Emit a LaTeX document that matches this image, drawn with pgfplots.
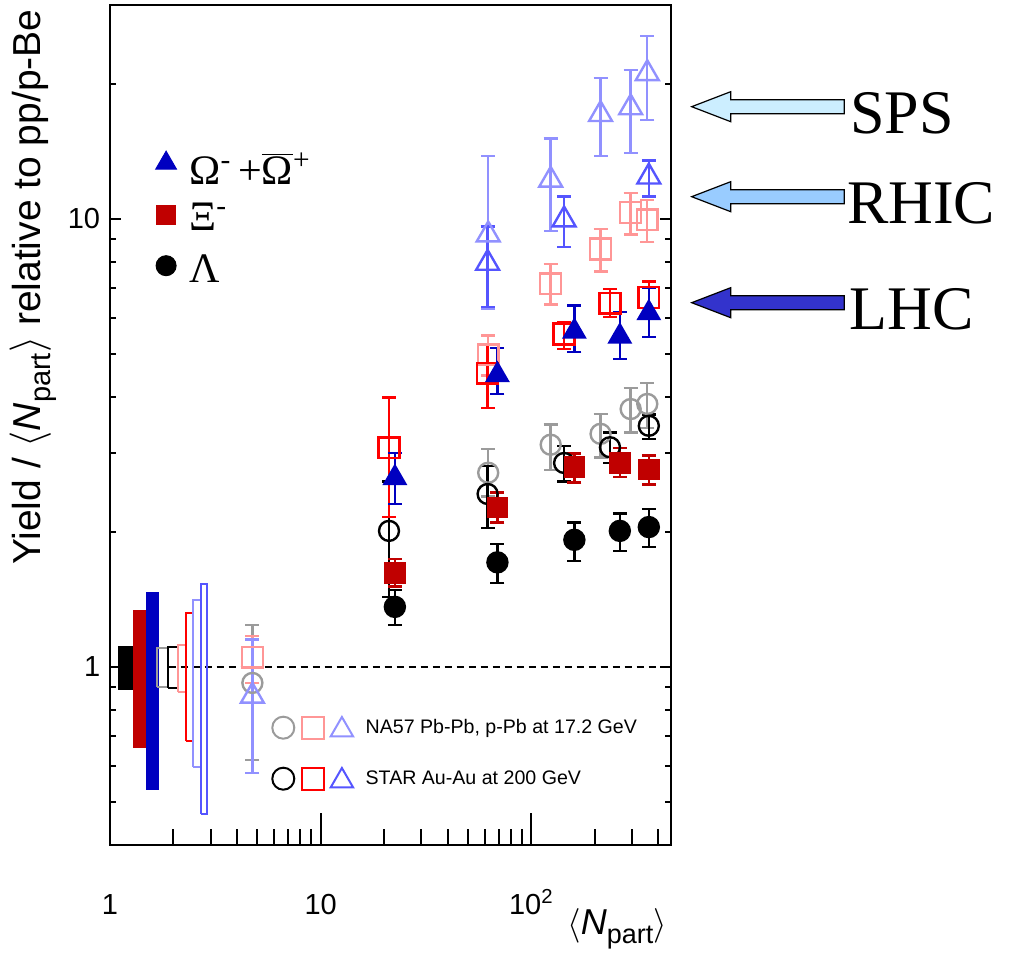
\documentclass[border=0pt]{standalone}
\usepackage{fontspec}
\setmainfont{Liberation Sans}
\newfontfamily\tms{Liberation Serif}
\usepackage{pgfplots}
\pgfplotsset{compat=1.18}

\definecolor{alred}{RGB}{192,0,0}
\definecolor{alblue}{RGB}{0,0,192}
\definecolor{stred}{RGB}{255,0,0}
\definecolor{stblue}{RGB}{85,85,255}
\definecolor{nagrey}{RGB}{155,155,155}
\definecolor{nared}{RGB}{255,150,150}
\definecolor{nablue}{RGB}{145,145,255}
\definecolor{spsc}{RGB}{204,238,255}
\definecolor{rhicc}{RGB}{153,204,255}
\definecolor{lhcc}{RGB}{51,51,204}

\pgfplotsset{
 pts/.style n args={3}{only marks, mark=#1, mark size=#2, color=#3,
   mark options={solid, line width=1.2pt},
   error bars/.cd, y dir=both, y explicit,
   error bar style={line width=1.2pt, #3},
   error mark options={rotate=90, mark size=3.5pt, line width=1.2pt, #3}},
 commonax/.style={at={(0,0)}, anchor=south west, scale only axis,
   width=280.5pt, height=420pt,
   xmin=1, xmax=460, ymin=0.4, ymax=30,
   axis line style={line width=1.2pt},
   tick style={line width=1pt, black}, tick align=inside, clip=false},
}

\begin{document}
\begin{tikzpicture}
\path[use as bounding box] (-55pt,-64pt) rectangle (449.5pt,422.5pt);

% ---------- main axis: data, y ticks, species legend ----------
\begin{loglogaxis}[commonax,
  xtick=\empty,
  ytick={1,10}, yticklabels={1,10},
  minor ytick={0.5,0.6,0.7,0.8,0.9,2,3,4,5,6,7,8,9,20},
  major tick length=5.5pt, minor tick length=3pt,
  yticklabel style={font=\fontsize{14.5}{16}\selectfont, xshift=-1.4pt},
  ylabel={Yield / $\big\langle$\textit{N}\raisebox{-5pt}{\fontsize{14.5}{16}\selectfont part}$\big\rangle$ relative to pp/p-Be},
  ylabel style={font=\fontsize{19.5}{22}\selectfont, at={(axis description cs:-0.137,0.664)}, anchor=center},
  legend cell align=left,
  legend style={at={(axis description cs:0.0815,0.6694)}, anchor=south west,
    draw=none, fill=none, inner sep=0pt, outer sep=0pt, row sep=2pt, column sep=6.4pt,
    font=\tms\fontsize{21}{25}\selectfont, nodes={inner sep=0pt, text height=18pt}},
]
\addlegendimage{legend image code/.code={\draw[alblue, line width=0.5pt] plot[mark=triangle*, mark size=6pt] coordinates {(0pt,3.3pt)};}}
\addlegendentry[text depth=2.85pt]{Ω\textsuperscript{-}\,+$\overline{\mbox{Ω}}$\textsuperscript{+}}
\addlegendimage{legend image code/.code={\draw[alred, line width=0.5pt] plot[mark=square*, mark size=4.75pt] coordinates {(0pt,1.85pt)};}}
\addlegendentry[text depth=6pt]{Ξ\textsuperscript{-}}
\addlegendimage{legend image code/.code={\draw[black, line width=0.5pt] plot[mark=*, mark size=5pt] coordinates {(0pt,-0.5pt)};}}
\addlegendentry[text depth=0pt]{Λ}

% systematic boxes at unity
\addplot[draw=black, fill=black, line width=0.6pt] coordinates {(1.095,0.889) (1.29,0.889) (1.29,1.11) (1.095,1.11) (1.095,0.889)};
\addplot[draw=alred, fill=alred, line width=0.6pt] coordinates {(1.29,0.661) (1.49,0.661) (1.49,1.336) (1.29,1.336) (1.29,0.661)};
\addplot[draw=alblue, fill=alblue, line width=0.6pt] coordinates {(1.49,0.533) (1.70,0.533) (1.70,1.465) (1.49,1.465) (1.49,0.533)};
\addplot[black, dash pattern=on 3.5pt off 2.5pt, line width=1.2pt] coordinates {(1.9,1) (460,1)};
\addplot[draw=nagrey, line width=1pt] coordinates {(1.68,0.899) (1.89,0.899) (1.89,1.10) (1.68,1.10) (1.68,0.899)};
\addplot[draw=black, line width=1pt] coordinates {(1.89,0.896) (2.10,0.896) (2.10,1.106) (1.89,1.106) (1.89,0.896)};
\addplot[draw=nared, line width=1pt] coordinates {(2.10,0.876) (2.29,0.876) (2.29,1.12) (2.10,1.12) (2.10,0.876)};
\addplot[draw=stred, line width=1pt] coordinates {(2.29,0.681) (2.49,0.681) (2.49,1.32) (2.29,1.32) (2.29,0.681)};
\addplot[draw=nablue, line width=1pt] coordinates {(2.49,0.596) (2.69,0.596) (2.69,1.406) (2.49,1.406) (2.49,0.596)};
\addplot[draw=stblue, line width=1pt] coordinates {(2.69,0.47) (2.88,0.47) (2.88,1.53) (2.69,1.53) (2.69,0.47)};

% NA57
\addplot[pts={o}{5pt}{nagrey}] coordinates {
 (4.74,0.92) +=(0,0.32) -=(0,0.30)
 (62.4,2.71) +=(0,0.35) -=(0,0.31)
 (123.5,3.13) +=(0,0.34) -=(0,0.38)
 (213,3.31) +=(0,0.36) -=(0,0.38)
 (296,3.76) +=(0,0.43) -=(0,0.43)
 (355,3.86) +=(0,0.44) -=(0,0.45)};
\addplot[pts={square}{5.2pt}{nared}] coordinates {
 (4.74,1.05) +=(0,0.12) -=(0,0.13)
 (62.4,4.97) +=(0,0.52) -=(0,0.50)
 (123.5,7.16) +=(0,0.76) -=(0,0.73)
 (213,8.56) +=(0,0.93) -=(0,0.94)
 (296,10.33) +=(0,1.07) -=(0,1.10)
 (355,9.95) +=(0,1.05) -=(0,1.08)};
\addplot[pts={triangle}{6.6pt}{nablue}] coordinates {
 (4.74,0.86) +=(0,0.29) -=(0,0.28)
 (62.4,9.21) +=(0,4.6) -=(0,2.9)
 (123.5,12.2) +=(0,2.9) -=(0,2.8)
 (213,17.1) +=(0,3.5) -=(0,3.3)
 (296,17.7) +=(0,3.8) -=(0,3.7)
 (355,21.1) +=(0,4.5) -=(0,4.5)};

% STAR
\addplot[pts={o}{5pt}{black}] coordinates {
 (21.1,2.01) +=(0,0.58) -=(0,0.58)
 (62,2.43) +=(0,0.38) -=(0,0.39)
 (143,2.85) +=(0,0.26) -=(0,0.26)
 (236,3.09) +=(0,0.24) -=(0,0.24)
 (361,3.45) +=(0,0.21) -=(0,0.23)};
\addplot[pts={square}{5.2pt}{stred}] coordinates {
 (21.1,3.08) +=(0,0.91) -=(0,0.92)
 (62,4.52) +=(0,0.73) -=(0,0.74)
 (143,5.53) +=(0,0.34) -=(0,0.41)
 (236,6.48) +=(0,0.49) -=(0,0.45)
 (361,6.67) +=(0,0.57) -=(0,0.64)};
\addplot[pts={triangle}{6.6pt}{stblue}] coordinates {
 (62,7.96) +=(0,1.64) -=(0,1.6)
 (143,9.95) +=(0,1.25) -=(0,1.3)
 (361,12.4) +=(0,1.1) -=(0,1.2)};

% ALICE
\addplot[pts={*}{5pt}{black}] coordinates {
 (22.5,1.36) +=(0,0.125) -=(0,0.12)
 (69,1.71) +=(0,0.17) -=(0,0.17)
 (160,1.92) +=(0,0.18) -=(0,0.20)
 (263,2.01) +=(0,0.19) -=(0,0.20)
 (361,2.05) +=(0,0.20) -=(0,0.20)};
\addplot[pts={square*}{4.75pt}{alred}] coordinates {
 (22.5,1.62) +=(0,0.12) -=(0,0.11)
 (69,2.27) +=(0,0.18) -=(0,0.17)
 (160,2.79) +=(0,0.20) -=(0,0.21)
 (263,2.85) +=(0,0.23) -=(0,0.20)
 (361,2.76) +=(0,0.20) -=(0,0.21)};
\addplot[pts={triangle*}{6pt}{alblue}] coordinates {
 (22.5,2.64) +=(0,0.36) -=(0,0.33)
 (69,4.48) +=(0,0.67) -=(0,0.42)
 (160,5.60) +=(0,0.80) -=(0,0.56)
 (263,5.46) +=(0,0.73) -=(0,0.59)
 (361,6.16) +=(0,0.84) -=(0,0.72)};
\end{loglogaxis}

% ---------- second axis: x ticks, x label, experiment legend ----------
\begin{loglogaxis}[commonax,
  ytick=\empty,
  xtick={1,10,100}, xticklabels={1,10,10\textsuperscript{2}},
  minor xtick={2,3,4,5,6,7,8,9,20,30,40,50,60,70,80,90,200,300,400},
  xtick pos=left,
  major tick length=16pt, minor tick length=8pt,
  xticklabel style={font=\fontsize{14.5}{16}\selectfont, anchor=base, yshift=-34.7pt},
  xlabel={$\big\langle$\textit{N}\raisebox{-4.5pt}{\fontsize{13.5}{15}\selectfont part}$\big\rangle$},
  xlabel style={font=\fontsize{18}{20}\selectfont, at={(axis description cs:0.904,-0.106)}, anchor=base},
  legend cell align=left,
  legend style={at={(axis description cs:0.2893,0.0619)}, anchor=south west,
    draw=none, fill=none, inner sep=0pt, outer sep=0pt, row sep=12pt, column sep=6.25pt,
    font=\fontsize{9.8}{11}\selectfont, nodes={inner sep=0pt, text height=9.5pt, text depth=4pt}},
]
\addlegendimage{legend image code/.code={
  \draw[nagrey, line width=1pt] plot[mark=o, mark size=5.5pt] coordinates {(0pt,0.4pt)};
  \draw[nared, line width=1pt] plot[mark=square, mark size=5.5pt] coordinates {(14.65pt,0.4pt)};
  \draw[nablue, line width=1pt] plot[mark=triangle, mark size=6.5pt] coordinates {(29.3pt,-0.75pt)};}}
\addlegendentry{NA57 Pb-Pb, p-Pb at 17.2 GeV}
\addlegendimage{legend image code/.code={
  \draw[black, line width=1pt] plot[mark=o, mark size=5.5pt] coordinates {(0pt,0.4pt)};
  \draw[stred, line width=1pt] plot[mark=square, mark size=5.5pt] coordinates {(14.65pt,0.4pt)};
  \draw[stblue, line width=1pt] plot[mark=triangle, mark size=6.5pt] coordinates {(29.3pt,-0.75pt)};}}
\addlegendentry{STAR Au-Au at 200 GeV}
\end{loglogaxis}

% ---------- annotation arrows ----------
\draw[fill=spsc, line width=0.6pt, line join=miter] (290.85pt,369.15pt) -- (310.35pt,376.65pt) -- (310.35pt,372.65pt) -- (367.15pt,372.65pt) -- (367.15pt,365.65pt) -- (310.35pt,365.65pt) -- (310.35pt,361.65pt) -- cycle;
\draw[fill=rhicc, line width=0.6pt, line join=miter] (290.85pt,324.15pt) -- (310.35pt,331.65pt) -- (310.35pt,327.65pt) -- (367.15pt,327.65pt) -- (367.15pt,320.65pt) -- (310.35pt,320.65pt) -- (310.35pt,316.65pt) -- cycle;
\draw[fill=lhcc, line width=0.6pt, line join=miter] (290.85pt,271.15pt) -- (310.35pt,278.65pt) -- (310.35pt,274.65pt) -- (367.15pt,274.65pt) -- (367.15pt,267.65pt) -- (310.35pt,267.65pt) -- (310.35pt,263.65pt) -- cycle;
\node[anchor=base west, inner sep=0pt, font=\tms\fontsize{31}{35}\selectfont] at (370pt,355.5pt) {SPS};
\node[anchor=base west, inner sep=0pt, font=\tms\fontsize{31}{35}\selectfont] at (368.35pt,310.85pt) {RHIC};
\node[anchor=base west, inner sep=0pt, font=\tms\fontsize{31}{35}\selectfont] at (369.5pt,257.85pt) {LHC};
\end{tikzpicture}
\end{document}
